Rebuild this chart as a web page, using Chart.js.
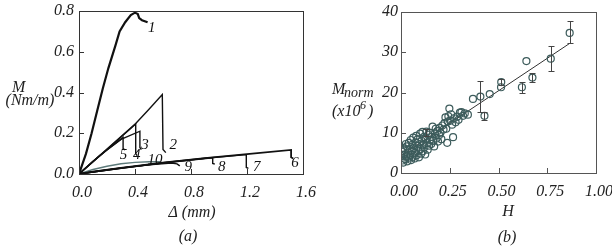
<!DOCTYPE html>
<html>
<head>
<meta charset="utf-8">
<script src="https://cdn.jsdelivr.net/npm/chart.js@4.4.0/dist/chart.umd.min.js"></script>
<style>
  body { margin: 0; background: #fff; }
  #wrap { position: relative; width: 612px; height: 246px; overflow: hidden; }
  canvas { position: absolute; top: 0; }
  #chartA { left: 0; }
  #chartB { left: 306px; }
</style>
</head>
<body>
<div id="wrap">
  <canvas id="chartA" width="318" height="246"></canvas>
  <canvas id="chartB" width="306" height="246"></canvas>
</div>
<script>
// ---- panel (a): M vs Δ, curves 1..10 as [Δ, M] pairs
const curve1 = [[0,0],[0.02,0.04],[0.05,0.1],[0.09,0.2],[0.13,0.31],[0.17,0.42],[0.21,0.52],[0.26,0.63],[0.29,0.7],[0.33,0.745],[0.37,0.78],[0.4,0.792],[0.42,0.785],[0.43,0.765],[0.45,0.755],[0.49,0.745]];
const curve2 = [[0,0],[0.2,0.122],[0.405,0.248],[0.5,0.318],[0.595,0.39],[0.6,0.12],[0.62,0.105]];
const curve3 = [[0,0],[0.1,0.062],[0.2,0.118],[0.3,0.17],[0.435,0.21],[0.435,0.13],[0.445,0.12]];
const curve4 = [[0,0],[0.2,0.12],[0.405,0.245],[0.405,0.1],[0.415,0.09]];
const curve5 = [[0,0],[0.15,0.092],[0.315,0.18],[0.315,0.125],[0.33,0.118]];
const curve6 = [[0,0],[0.1,0.011],[0.3,0.03],[0.6,0.056],[0.9,0.078],[1.2,0.098],[1.515,0.118],[1.515,0.082],[1.53,0.076]];
const curve7 = [[0,0],[0.1,0.01],[0.3,0.028],[0.6,0.055],[0.9,0.077],[1.195,0.095],[1.195,0.032],[1.21,0.028]];
const curve8 = [[0,0],[0.1,0.01],[0.3,0.028],[0.6,0.054],[0.955,0.08],[0.955,0.052],[0.97,0.048]];
const curve9 = [[0,0],[0.1,0.011],[0.3,0.03],[0.5,0.045],[0.66,0.054],[0.7,0.05],[0.72,0.04]];
const curve10 = [[0,0],[0.05,0.012],[0.1,0.022],[0.2,0.038],[0.3,0.05],[0.4,0.057],[0.5,0.06],[0.58,0.06]];

const curveNames = ["1", "2", "3", "4", "5", "6", "7", "8", "9", "10"];
const nameX = [0.52, 0.674, 0.471, 0.412, 0.317, 1.543, 1.269, 1.019, 0.781, 0.543];
const nameY = [0.715, 0.142, 0.142, 0.093, 0.093, 0.052, 0.036, 0.036, 0.036, 0.069];

const deltaTicks = [0, 0.4, 0.8, 1.2, 1.6];
const momentTicks = [0, 0.2, 0.4, 0.6, 0.8];

// ---- panel (b): M_norm vs H
const hValues = [0.000,0.005,0.008,0.010,0.012,0.015,0.020,0.022,0.025,0.028,0.030,0.033,0.036,0.040,0.042,0.045,0.048,0.050,
  0.052,0.055,0.058,0.060,0.063,0.066,0.070,0.072,0.075,0.078,0.080,0.083,0.086,0.090,0.092,0.095,0.098,
  0.100,0.103,0.106,0.110,0.112,0.115,0.118,0.120,0.124,0.127,0.130,0.133,0.137,0.140,0.144,0.148,
  0.150,0.155,0.158,0.162,0.165,0.170,0.174,0.178,0.182,0.186,0.190,0.195,0.198,
  0.202,0.207,0.212,0.218,0.223,0.228,0.232,0.237,0.240,0.243,0.248,0.252,0.257,0.262,0.267,0.272,0.280,0.288,0.295,0.302,0.310,0.318,0.327,0.343,
  0.369,0.407,0.428,0.455,0.513,0.514,0.620,0.643,0.674,0.768,0.865];
const mValues = [4.2,5.3,3.1,6.2,2.6,4.6,5.8,3.4,7.2,4.1,6.6,2.9,5.1,7.5,3.8,6.0,4.5,8.2,
  3.2,5.5,7.0,4.0,8.8,6.2,3.6,5.0,7.6,9.2,4.4,6.8,8.4,5.6,3.9,7.2,9.8,
  6.0,4.8,8.0,10.2,5.4,7.0,9.0,6.4,4.6,8.5,10.3,7.4,5.8,9.5,6.8,8.2,
  10.0,7.2,9.0,11.5,8.0,6.6,9.8,11.0,8.6,10.4,7.8,9.4,11.2,
  10.0,8.4,11.8,10.8,12.4,13.8,11.0,7.5,12.8,14.1,16.0,13.0,14.6,12.0,8.9,13.6,12.6,14.0,13.2,15.0,15.1,14.2,14.8,14.5,
  18.4,19.0,14.2,19.6,21.3,22.6,21.3,27.8,23.7,28.4,34.8];

const errH = [0.130, 0.407, 0.428, 0.514, 0.620, 0.674, 0.768, 0.865];
const errLow = [9.2, 15.2, 13.1, 21.8, 19.9, 22.7, 25.4, 32.3];
const errHigh = [11.0, 22.9, 15.2, 23.4, 22.6, 24.8, 31.5, 37.7];

const fitH = [0, 0.865];
const fitM = [4.3, 32.2];

const hTicks = [0, 0.25, 0.5, 0.75, 1.0];
const normTicks = [0, 10, 20, 30, 40];

const serif = '"Liberation Serif", "DejaVu Serif", serif';
Chart.defaults.font.family = serif;
Chart.defaults.font.style = 'italic';
Chart.defaults.font.size = 16;
Chart.defaults.color = '#222';

// box round the plot area, with short ticks pointing inward
const framePlugin = {
  id: 'frame',
  afterDraw(chart, args, opts) {
    const { ctx, chartArea: a, scales } = chart;
    ctx.save();
    ctx.strokeStyle = opts.color || '#333';
    ctx.lineWidth = 1;
    ctx.strokeRect(Math.round(a.left) + 0.5, Math.round(a.top) + 0.5,
      Math.round(a.right - a.left), Math.round(a.bottom - a.top));
    ctx.beginPath();
    scales.x.ticks.forEach(t => {
      const px = Math.round(scales.x.getPixelForValue(t.value)) + 0.5;
      ctx.moveTo(px, a.bottom);
      ctx.lineTo(px, a.bottom - 5);
    });
    scales.y.ticks.forEach(t => {
      const py = Math.round(scales.y.getPixelForValue(t.value)) + 0.5;
      ctx.moveTo(a.left, py);
      ctx.lineTo(a.left + 5, py);
    });
    ctx.stroke();
    ctx.restore();
  }
};

// free text (axis titles, panel letters)
const textPlugin = {
  id: 'texts',
  afterDraw(chart, args, opts) {
    const ctx = chart.ctx;
    (opts.items || []).forEach(it => {
      ctx.save();
      ctx.font = `italic ${it.size || 16}px ${serif}`;
      ctx.fillStyle = '#222';
      ctx.textAlign = it.align || 'center';
      ctx.textBaseline = 'middle';
      ctx.fillText(it.text, it.x, it.y);
      ctx.restore();
    });
  }
};

// curve numbers placed in data coordinates
const curveLabelPlugin = {
  id: 'curveLabels',
  afterDatasetsDraw(chart) {
    const { ctx, scales } = chart;
    ctx.save();
    ctx.font = `italic 15px ${serif}`;
    ctx.fillStyle = '#111';
    ctx.textAlign = 'center';
    ctx.textBaseline = 'middle';
    curveNames.forEach((n, i) => {
      ctx.fillText(n, scales.x.getPixelForValue(nameX[i]), scales.y.getPixelForValue(nameY[i]));
    });
    ctx.restore();
  }
};

// vertical error bars with caps
const errorBarPlugin = {
  id: 'errorBars',
  afterDatasetsDraw(chart) {
    const { ctx, scales } = chart;
    ctx.save();
    ctx.strokeStyle = '#444';
    ctx.lineWidth = 1;
    ctx.beginPath();
    errH.forEach((h, i) => {
      const px = Math.round(scales.x.getPixelForValue(h)) + 0.5;
      const lo = Math.round(scales.y.getPixelForValue(errLow[i])) + 0.5;
      const hi = Math.round(scales.y.getPixelForValue(errHigh[i])) + 0.5;
      ctx.moveTo(px, lo); ctx.lineTo(px, hi);
      ctx.moveTo(px - 3, lo); ctx.lineTo(px + 3, lo);
      ctx.moveTo(px - 3, hi); ctx.lineTo(px + 3, hi);
    });
    ctx.stroke();
    ctx.restore();
  }
};

// axis with fixed tick list; size = axis box size, padding overflow switched off
function axis(min, max, ticks, digits, isX, size, pad) {
  return {
    type: 'linear', min: min, max: max,
    grid: { display: false, drawTicks: false },
    border: { display: false },
    afterBuildTicks: s => { s.ticks = ticks.map(v => ({ value: v })); },
    afterFit: s => {
      if (isX) { s.height = size; s.paddingLeft = 0; s.paddingRight = 0; }
      else { s.width = size; s.paddingTop = 0; s.paddingBottom = 0; }
    },
    ticks: {
      padding: pad,
      labelOffset: isX ? 3 : 0,
      callback: v => Number(v).toFixed(digits)
    }
  };
}

const curves = [curve1, curve2, curve3, curve4, curve5, curve6, curve7, curve8, curve9, curve10];

new Chart(document.getElementById('chartA'), {
  type: 'scatter',
  data: {
    datasets: curves.map((c, i) => ({
      data: c.map(p => ({ x: p[0], y: p[1] })),
      showLine: true,
      borderColor: i === 9 ? '#5d7a7a' : '#111',
      borderWidth: i === 0 ? 2.2 : (i === 5 ? 1.8 : 1.4),
      pointRadius: 0,
      tension: 0
    }))
  },
  options: {
    responsive: false,
    animation: false,
    devicePixelRatio: 1,
    layout: { padding: { left: 0, right: 15, top: 11, bottom: 0 } },
    plugins: {
      legend: { display: false },
      tooltip: { enabled: false },
      frame: { color: '#333' },
      texts: {
        items: [
          { text: 'M', x: 12, y: 88, align: 'left' },
          { text: '(Nm/m)', x: 30, y: 101 },
          { text: 'Δ (mm)', x: 192, y: 213 },
          { text: '(a)', x: 188, y: 237 }
        ]
      }
    },
    scales: {
      x: axis(0, 1.6, deltaTicks, 1, true, 72, 9),
      y: axis(0, 0.8, momentTicks, 1, false, 79, 5)
    }
  },
  plugins: [framePlugin, textPlugin, curveLabelPlugin]
});

new Chart(document.getElementById('chartB'), {
  type: 'scatter',
  data: {
    datasets: [
      {
        data: hValues.map((h, i) => ({ x: h, y: mValues[i] })),
        pointRadius: 3.5,
        pointBorderWidth: 1.2,
        pointBorderColor: '#3d5c5c',
        pointBackgroundColor: 'rgba(255,255,255,0)'
      },
      {
        data: fitH.map((h, i) => ({ x: h, y: fitM[i] })),
        showLine: true,
        borderColor: '#333',
        borderWidth: 1,
        pointRadius: 0
      }
    ]
  },
  options: {
    responsive: false,
    animation: false,
    devicePixelRatio: 1,
    layout: { padding: { left: 0, right: 16, top: 12, bottom: 0 } },
    plugins: {
      legend: { display: false },
      tooltip: { enabled: false },
      frame: { color: '#555' },
      texts: {
        items: [
          { text: 'M', x: 26, y: 90, align: 'left' },
          { text: 'norm', x: 38, y: 93, size: 14, align: 'left' },
          { text: '(x10', x: 26, y: 112, align: 'left' },
          { text: '6', x: 54, y: 106, size: 12, align: 'left' },
          { text: ')', x: 62, y: 112, align: 'left' },
          { text: 'H', x: 202, y: 212 },
          { text: '(b)', x: 201, y: 238 }
        ]
      }
    },
    scales: {
      x: axis(0, 1, hTicks, 2, true, 73, 9),
      y: axis(0, 40, normTicks, 0, false, 95, 3)
    }
  },
  plugins: [framePlugin, textPlugin, errorBarPlugin]
});
</script>
</body>
</html>
